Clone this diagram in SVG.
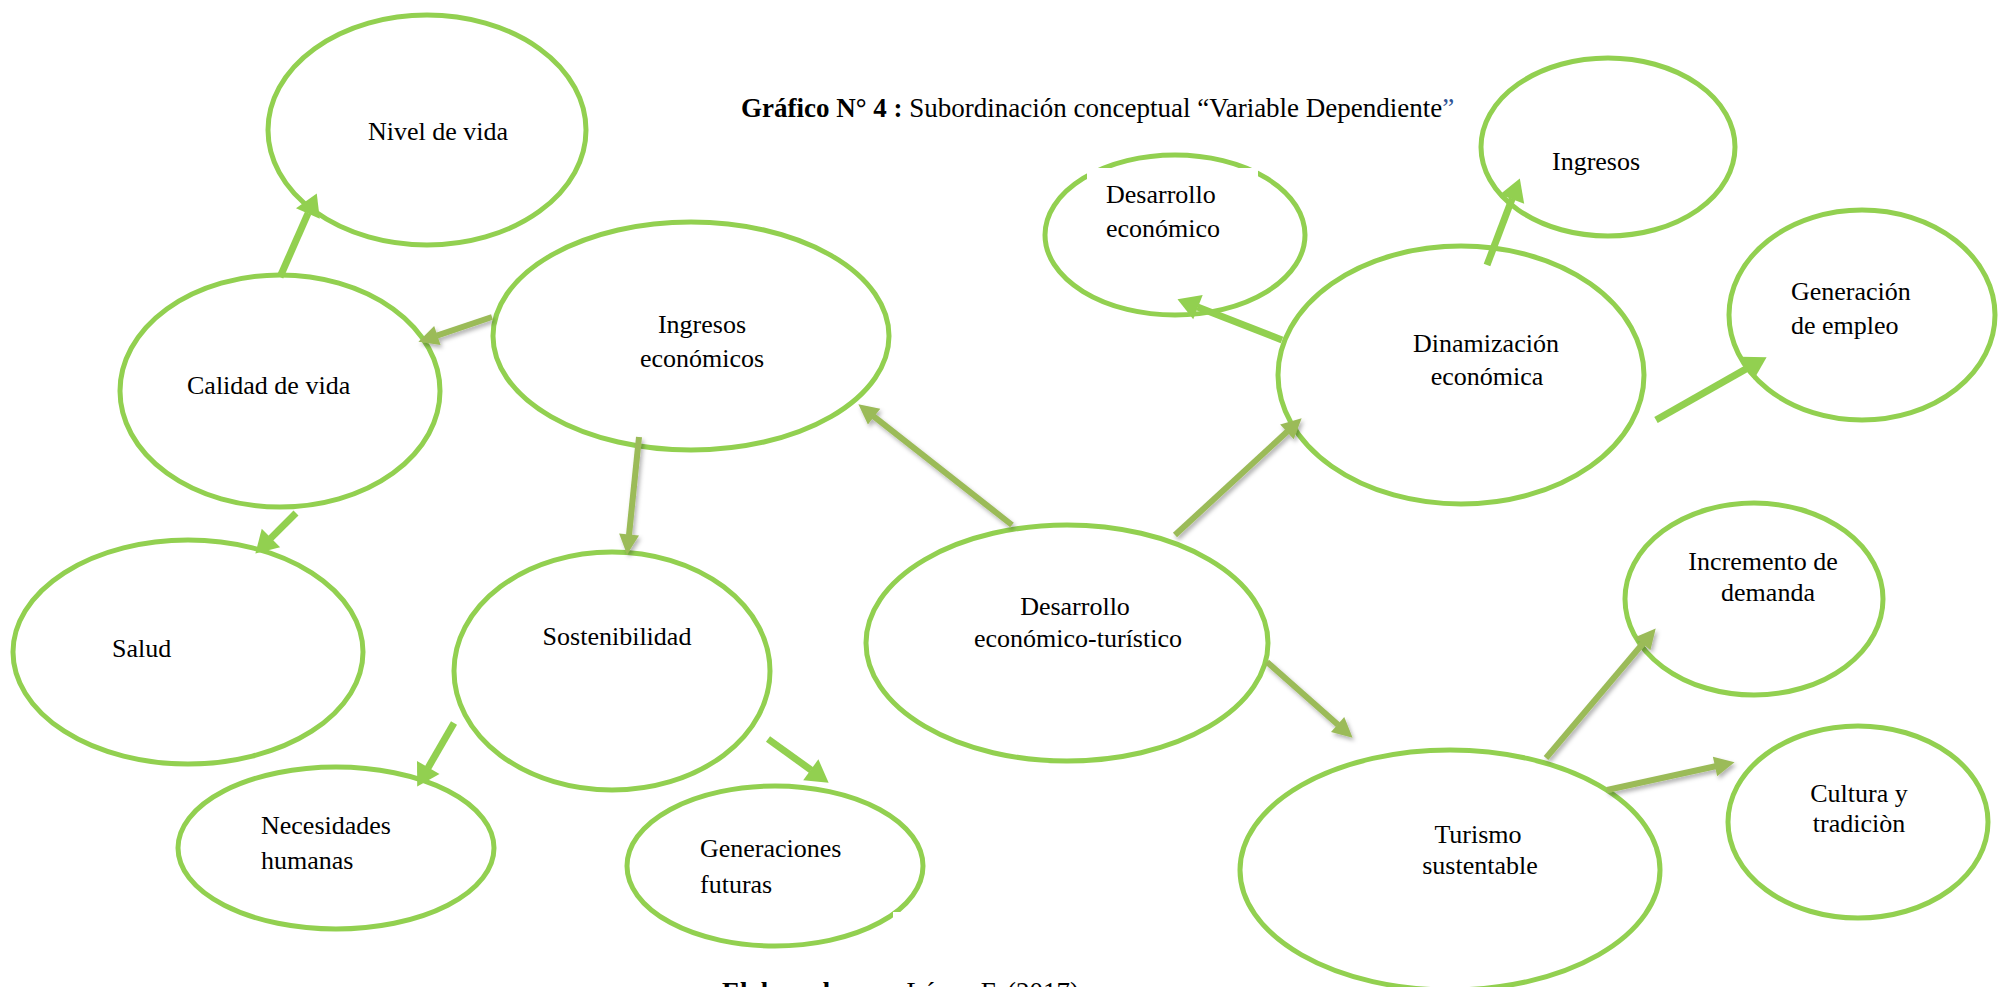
<svg xmlns="http://www.w3.org/2000/svg" width="1998" height="987" viewBox="0 0 1998 987">
  <style>
    .node ellipse { fill: #ffffff; stroke: #92d050; stroke-width: 5; }
    .lbl { font-family: "Liberation Serif", "Times New Roman", serif; font-size: 26px; fill: #000000; }
    .mid { text-anchor: middle; }
    .cap { font-family: "Liberation Serif", "Times New Roman", serif; font-size: 27px; fill: #000000; }
    .bright { stroke: #92d050; stroke-width: 7; fill: none; marker-end: url(#headBright); }
    .olive { stroke: #9bbb59; stroke-width: 6; fill: none; marker-end: url(#headOlive); }
  </style>
  <defs>
    <marker id="headBright" markerUnits="userSpaceOnUse" markerWidth="24" markerHeight="26" refX="0.5" refY="13" orient="auto" overflow="visible">
      <path d="M0,0 L22,13 L0,26 z" fill="#92d050"/>
    </marker>
    <marker id="headOlive" markerUnits="userSpaceOnUse" markerWidth="22" markerHeight="20" refX="0.5" refY="10" orient="auto" overflow="visible">
      <path d="M0,0 L20,10 L0,20 z" fill="#9bbb59"/>
    </marker>
    <filter id="shade" x="-20%" y="-20%" width="140%" height="140%">
      <feDropShadow dx="2" dy="3" stdDeviation="2" flood-color="#000000" flood-opacity="0.3"/>
    </filter>
  </defs>

  <rect width="1998" height="987" fill="#ffffff"/>

  <!-- caption -->
  <text class="cap" x="741" y="117"><tspan font-weight="bold">Gráfico N° 4 :</tspan> Subordinación conceptual “Variable Dependiente<tspan fill="#2f5496">”</tspan></text>
  <text class="cap" x="722" y="1001"><tspan font-weight="bold">Elaborado por:</tspan> López F. (2017)</text>

  <!-- nodes -->
  <g id="nivel-de-vida" class="node">
    <ellipse cx="427" cy="130" rx="159" ry="115"/>
    <text class="lbl" x="368" y="140">Nivel de vida</text>
  </g>
  <g id="calidad-de-vida" class="node">
    <ellipse cx="280" cy="391" rx="160" ry="116"/>
    <text class="lbl" x="187" y="394">Calidad de vida</text>
  </g>
  <g id="ingresos-economicos" class="node">
    <ellipse cx="691" cy="336" rx="198" ry="114"/>
    <text class="lbl mid" x="702" y="333">Ingresos</text>
    <text class="lbl mid" x="702" y="367">económicos</text>
  </g>
  <g id="salud" class="node">
    <ellipse cx="188" cy="652" rx="175" ry="112"/>
    <text class="lbl" x="112" y="657">Salud</text>
  </g>
  <g id="sostenibilidad" class="node">
    <ellipse cx="612" cy="671" rx="158" ry="119"/>
    <text class="lbl mid" x="617" y="645">Sostenibilidad</text>
  </g>
  <g id="desarrollo-economico-turistico" class="node">
    <ellipse cx="1067" cy="643" rx="201" ry="118"/>
    <text class="lbl mid" x="1075" y="615">Desarrollo</text>
    <text class="lbl mid" x="1078" y="647">económico-turístico</text>
  </g>
  <g id="necesidades-humanas" class="node">
    <ellipse cx="336" cy="848" rx="158" ry="81"/>
    <text class="lbl" x="261" y="834">Necesidades</text>
    <text class="lbl" x="261" y="869">humanas</text>
  </g>
  <g id="generaciones-futuras" class="node">
    <ellipse cx="775" cy="866" rx="148" ry="80"/>
    <rect x="893" y="912" width="10" height="13" fill="#ffffff"/>
    <text class="lbl" x="700" y="857">Generaciones</text>
    <text class="lbl" x="700" y="893">futuras</text>
  </g>
  <g id="desarrollo-economico" class="node">
    <ellipse cx="1175" cy="235" rx="130" ry="80"/>
    <rect x="1087" y="168" width="171" height="70" fill="#ffffff"/>
    <text class="lbl" x="1106" y="203">Desarrollo</text>
    <text class="lbl" x="1106" y="237">económico</text>
  </g>
  <g id="ingresos" class="node">
    <ellipse cx="1608" cy="147" rx="127" ry="89"/>
    <text class="lbl" x="1552" y="170">Ingresos</text>
  </g>
  <g id="dinamizacion-economica" class="node">
    <ellipse cx="1461" cy="375" rx="183" ry="129"/>
    <text class="lbl mid" x="1486" y="352">Dinamización</text>
    <text class="lbl mid" x="1487" y="385">económica</text>
  </g>
  <g id="generacion-de-empleo" class="node">
    <ellipse cx="1862" cy="315" rx="133" ry="105"/>
    <text class="lbl" x="1791" y="300">Generación</text>
    <text class="lbl" x="1791" y="334">de empleo</text>
  </g>
  <g id="incremento-de-demanda" class="node">
    <ellipse cx="1754" cy="599" rx="129" ry="96"/>
    <text class="lbl mid" x="1763" y="570">Incremento de</text>
    <text class="lbl mid" x="1768" y="601">demanda</text>
  </g>
  <g id="cultura-y-tradicion" class="node">
    <ellipse cx="1858" cy="822" rx="130" ry="96"/>
    <text class="lbl mid" x="1859" y="802">Cultura y</text>
    <text class="lbl mid" x="1859" y="832">tradiciòn</text>
  </g>
  <g id="turismo-sustentable" class="node">
    <ellipse cx="1450" cy="870" rx="210" ry="120"/>
    <text class="lbl mid" x="1478" y="843">Turismo</text>
    <text class="lbl mid" x="1480" y="874">sustentable</text>
  </g>

  <!-- connectors -->
  <g id="connectors">
    <g id="links-bright">
      <line class="bright" x1="280" y1="277" x2="308.1" y2="213.1"/>
      <line class="bright" x1="296" y1="513" x2="270.6" y2="538.4"/>
      <line class="bright" x1="454" y1="723" x2="428" y2="767.9"/>
      <line class="bright" x1="768" y1="739" x2="811.2" y2="770.1"/>
      <line class="bright" x1="1282" y1="340" x2="1197.5" y2="307"/>
      <line class="bright" x1="1487" y1="265" x2="1512.2" y2="198.6"/>
      <line class="bright" x1="1656" y1="420" x2="1747.9" y2="367.9"/>
    </g>
    <g id="links-olive" filter="url(#shade)">
      <line class="olive" x1="492" y1="317" x2="436.9" y2="335.6"/>
      <line class="olive" x1="639" y1="437" x2="629" y2="535.1"/>
      <line class="olive" x1="1012" y1="525" x2="873.7" y2="416.4"/>
      <line class="olive" x1="1175" y1="535" x2="1287.3" y2="431.5"/>
      <line class="olive" x1="1267" y1="662" x2="1338" y2="724.8"/>
      <line class="olive" x1="1546" y1="758" x2="1643.1" y2="643.3"/>
      <line class="olive" x1="1607" y1="790" x2="1715.5" y2="766.3"/>
    </g>
  </g>
</svg>
